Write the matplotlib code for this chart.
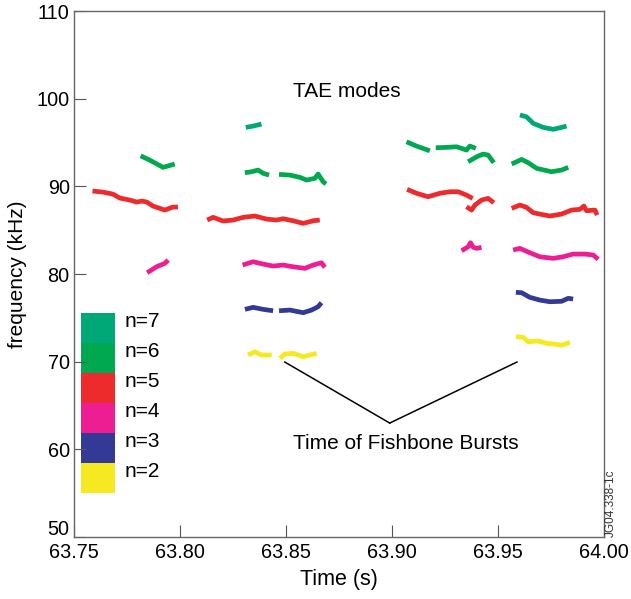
import matplotlib
matplotlib.use("Agg")
import matplotlib.pyplot as plt
from matplotlib.patches import Rectangle
from matplotlib.transforms import ScaledTranslation

plt.rcParams["font.family"] = ["Liberation Sans", "DejaVu Sans"]

# TAE mode traces, one list of segments per toroidal mode number
n7_t = [[63.8311, 63.8346, 63.8385],
        [63.9604, 63.9635, 63.9667, 63.9714, 63.9761, 63.9800, 63.9824]]
n7_f = [[96.73, 96.88, 97.11],
        [98.14, 97.94, 97.19, 96.73, 96.51, 96.73, 96.88]]

n6_t = [[63.7815, 63.7858, 63.7921, 63.7976],
        [63.8307, 63.8338, 63.8369, 63.8393, 63.8421],
        [63.8468, 63.8519, 63.8566, 63.8598, 63.8637, 63.8652, 63.8676, 63.8689],
        [63.9069, 63.9116, 63.9179],
        [63.9207, 63.9258, 63.9305, 63.9329, 63.9352, 63.9368, 63.9396],
        [63.9360, 63.9400, 63.9431, 63.9454, 63.9481],
        [63.9565, 63.9612, 63.9643, 63.9683, 63.9753, 63.9800, 63.9832]]
n6_f = [[93.49, 93.00, 92.17, 92.55],
        [91.56, 91.67, 91.86, 91.49, 91.29],
        [91.37, 91.29, 91.03, 90.72, 90.92, 91.41, 90.53, 90.27],
        [95.09, 94.60, 94.06],
        [94.41, 94.45, 94.52, 94.34, 94.14, 94.60, 94.34],
        [92.81, 93.38, 93.69, 93.57, 92.70],
        [92.55, 93.08, 92.70, 92.06, 91.67, 91.86, 92.17]]

n5_t = [[63.7588, 63.7637, 63.7684, 63.7717, 63.7764, 63.7797, 63.7821, 63.7844,
         63.7873, 63.7929, 63.7967, 63.7991],
        [63.8129, 63.8157, 63.8204, 63.8251, 63.8299, 63.8354, 63.8409, 63.8456,
         63.8487, 63.8534, 63.8582, 63.8629, 63.8660],
        [63.9072, 63.9117, 63.9171, 63.9226, 63.9274, 63.9313, 63.9352, 63.9381],
        [63.9352, 63.9376, 63.9392, 63.9423, 63.9454, 63.9481],
        [63.9565, 63.9604, 63.9635, 63.9667, 63.9745, 63.9800, 63.9848, 63.9887,
         63.9906, 63.9918, 63.9958, 63.9968]]
n5_f = [[89.47, 89.35, 89.12, 88.67, 88.44, 88.21, 88.33, 88.21, 87.76, 87.30, 87.64, 87.64],
        [86.16, 86.47, 86.05, 86.16, 86.47, 86.62, 86.27, 86.16, 86.31, 86.08, 85.78, 86.08, 86.16],
        [89.66, 89.21, 88.82, 89.21, 89.39, 89.39, 89.01, 88.63],
        [87.68, 87.30, 87.87, 88.44, 88.63, 88.13],
        [87.49, 87.87, 87.61, 86.99, 86.62, 86.84, 87.30, 87.38, 87.76, 87.22, 87.30, 86.73]]

n4_t = [[63.7846, 63.7890, 63.7929, 63.7945],
        [63.8296, 63.8346, 63.8393, 63.8440, 63.8487, 63.8534, 63.8590, 63.8629, 63.8668, 63.8684],
        [63.9329, 63.9360, 63.9371, 63.9384, 63.9400, 63.9423],
        [63.9572, 63.9604, 63.9651, 63.9698, 63.9761, 63.9808, 63.9855, 63.9910, 63.9950, 63.9973]]
n4_f = [[80.15, 80.83, 81.22, 81.60],
        [81.03, 81.40, 81.14, 80.91, 81.03, 80.83, 80.65, 81.03, 81.29, 80.76],
        [82.66, 83.11, 83.57, 83.05, 82.93, 83.05],
        [82.74, 82.93, 82.43, 81.97, 81.79, 81.97, 82.28, 82.28, 82.17, 81.68]]

n3_t = [[63.8307, 63.8346, 63.8393, 63.8440],
        [63.8468, 63.8519, 63.8582, 63.8621, 63.8652, 63.8668],
        [63.9585, 63.9612, 63.9651, 63.9698, 63.9745, 63.9800, 63.9832, 63.9855]]
n3_f = [[75.97, 76.20, 75.97, 75.81],
        [75.81, 75.89, 75.59, 75.89, 76.27, 76.73],
        [77.91, 77.87, 77.34, 77.03, 76.84, 76.89, 77.23, 77.15]]

n2_t = [[63.8322, 63.8354, 63.8385, 63.8433],
        [63.8472, 63.8495, 63.8534, 63.8582, 63.8645],
        [63.9585, 63.9620, 63.9643, 63.9690, 63.9730, 63.9769, 63.9800, 63.9840]]
n2_f = [[70.76, 71.14, 70.76, 70.76],
        [70.38, 70.87, 70.95, 70.57, 70.95],
        [72.85, 72.78, 72.28, 72.36, 72.09, 72.01, 71.87, 72.21]]

mode_labels = ["n=7", "n=6", "n=5", "n=4", "n=3", "n=2"]
mode_colors = ["#00a878", "#00a84f", "#ed2b2d", "#ec1e91", "#333a95", "#f7e921"]
mode_t = [n7_t, n6_t, n5_t, n4_t, n3_t, n2_t]
mode_f = [n7_f, n6_f, n5_f, n4_f, n3_f, n2_f]

# fishbone burst times, pointed at by the annotation
burst_times = [63.8495, 63.9590]

fig = plt.figure(figsize=(6.31, 5.99), dpi=100)
ax = fig.add_axes([0.117, 0.1035, 0.840, 0.878])

for segs_t, segs_f, col in zip(mode_t, mode_f, mode_colors):
    for t, f in zip(segs_t, segs_f):
        ax.plot(t, f, color=col, lw=3.4, solid_capstyle="butt", solid_joinstyle="round")

# legend as stacked colour blocks
for i, (lab, col) in enumerate(zip(mode_labels, mode_colors)):
    y0 = 0.4259 - (i + 1) * 0.057
    ax.add_patch(Rectangle((0.0132, y0), 0.0642, 0.057, transform=ax.transAxes,
                           facecolor=col, edgecolor="none"))
    ax.text(0.096, y0 + 0.040, lab, transform=ax.transAxes, fontsize=15,
            ha="left", va="center")

ax.text(63.8788, 100.8, "TAE modes", fontsize=15, ha="center", va="center")

# fishbone annotation
apex = (63.8990, 63.0)
for bt in burst_times:
    ax.plot([apex[0], bt], [apex[1], 69.96], color="black", lw=1.1)
ax.text(63.9066, 60.7, "Time of Fishbone Bursts", fontsize=15, ha="center", va="center")

ax.set_xlim(63.75, 64.00)
ax.set_ylim(50, 110)
ax.set_xticks([63.75, 63.80, 63.85, 63.90, 63.95, 64.00])
ax.set_xticklabels(["63.75", "63.80", "63.85", "63.90", "63.95", "64.00"])
ax.set_yticks([50, 60, 70, 80, 90, 100, 110])
ax.tick_params(direction="in", length=8.5, width=0.8, color="#555555",
               labelsize=14.3, pad=3)
ax.tick_params(axis="x", pad=4)
for s in ax.spines.values():
    s.set_color("#666666")
    s.set_linewidth(1.0)

# lift the lowest y label clear of the x labels, as in the original
low = ax.yaxis.get_major_ticks()[0].label1
low.set_transform(low.get_transform() + ScaledTranslation(0, 7 / 72, fig.dpi_scale_trans))

ax.set_xlabel("Time (s)", fontsize=15.5, labelpad=5)
ax.set_ylabel("frequency (kHz)", fontsize=15, labelpad=7)

fig.text(0.968, 0.104, "JG04.338-1c", rotation=90, fontsize=8.5,
         ha="center", va="bottom", color="#333333")

fig.savefig("out.png", dpi=100)
